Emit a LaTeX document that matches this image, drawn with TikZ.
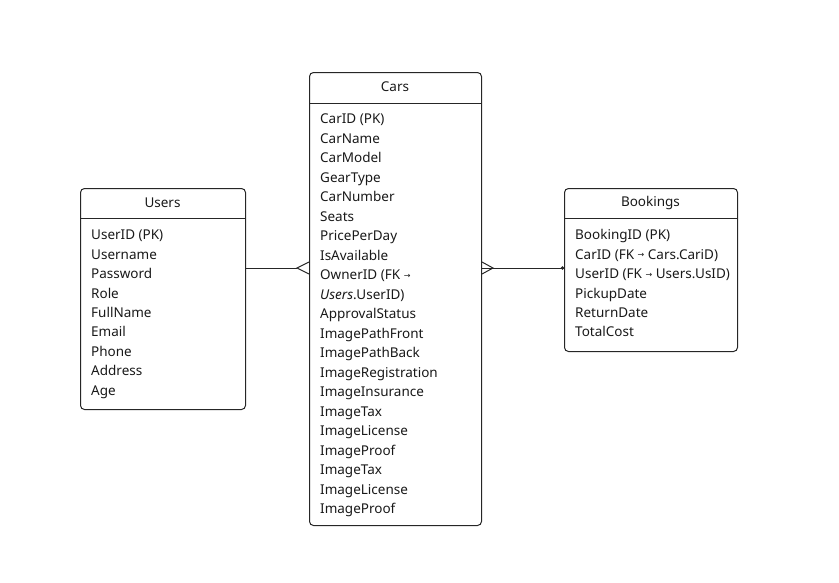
\documentclass[tikz,border=0pt]{standalone}
\usepackage{fontspec}
\setmainfont{Noto Sans}
\newfontfamily\arrowfont{DejaVu Sans}
\usetikzlibrary{calc}
\newcommand{\fkarrow}{\raisebox{1.6pt}{\arrowfont\fontsize{8}{8}\selectfont →}}
\begin{document}
\begin{tikzpicture}[x=1pt,y=-1pt,
  ent/.style={draw=black!85, line width=1pt, rounded corners=4pt, anchor=north west, inner sep=0pt, fill=white},
  ttl/.style={font=\fontsize{13.5}{15}\selectfont, text=black!90, anchor=center, inner sep=0pt},
  row/.style={font=\fontsize{13.5}{15}\selectfont, text=black!90, anchor=base west, inner sep=0pt},
  rel/.style={draw=black!85, line width=1pt}]
\useasboundingbox (0,0) rectangle (839,582);
% Users
\node[ent, minimum width=165pt, minimum height=221pt] (users) at (80,188) {};
\node[ttl] (usersT) at (162.5,203) {Users};
\draw[rel] (users.north west |- 0,218) -- (users.north east |- 0,218);
\foreach \t [count=\i from 0] in {UserID (PK),Username,Password,Role,FullName,Email,Phone,Address,Age}
  \node[row] (u\i) at (91,{235+19.4*\i+4.9}) {\t};
% Cars
\node[ent, minimum width=172pt, minimum height=453pt] (cars) at (309,72) {};
\node[ttl] (carsT) at (395,87) {Cars};
\draw[rel] (cars.north west |- 0,103) -- (cars.north east |- 0,103);
\foreach \t [count=\i from 0] in {CarID (PK),CarName,CarModel,GearType,CarNumber,Seats,PricePerDay,IsAvailable,{OwnerID (FK \fkarrow}, {\textit{Users}.UserID)},ApprovalStatus,ImagePathFront,ImagePathBack,ImageRegistration,ImageInsurance,ImageTax,ImageLicense,ImageProof,ImageTax,ImageLicense,ImageProof}
  \node[row] (c\i) at (320,{119+19.5*\i+4.9}) {\t};
% Bookings
\node[ent, minimum width=173pt, minimum height=163pt] (bookings) at (564,188) {};
\node[ttl] (bookingsT) at (650.5,203) {Bookings};
\draw[rel] (bookings.north west |- 0,218) -- (bookings.north east |- 0,218);
\foreach \t [count=\i from 0] in {BookingID (PK),{CarID (FK \fkarrow{} Cars.CariD)},{UserID (FK \fkarrow{} Users.UsID)},PickupDate,ReturnDate,TotalCost}
  \node[row] (b\i) at (575,{235+19.4*\i+4.9}) {\t};
% relations
\coordinate (r1) at (0,268);
\coordinate (f1) at (297,268);
\coordinate (f2) at (493,268);
\draw[rel] (users.east |- r1) -- (f1);
\draw[rel] (cars.west |- 0,262) -- (f1) -- (cars.west |- 0,274);
\draw[rel] (cars.east |- r1) -- (bookings.west |- r1);
\draw[rel] (cars.east |- 0,262) -- (f2) -- (cars.east |- 0,274);
\fill[black!85] ($(bookings.west |- r1)+(-1.5,0)$) circle (1.8pt);
\end{tikzpicture}
\end{document}
